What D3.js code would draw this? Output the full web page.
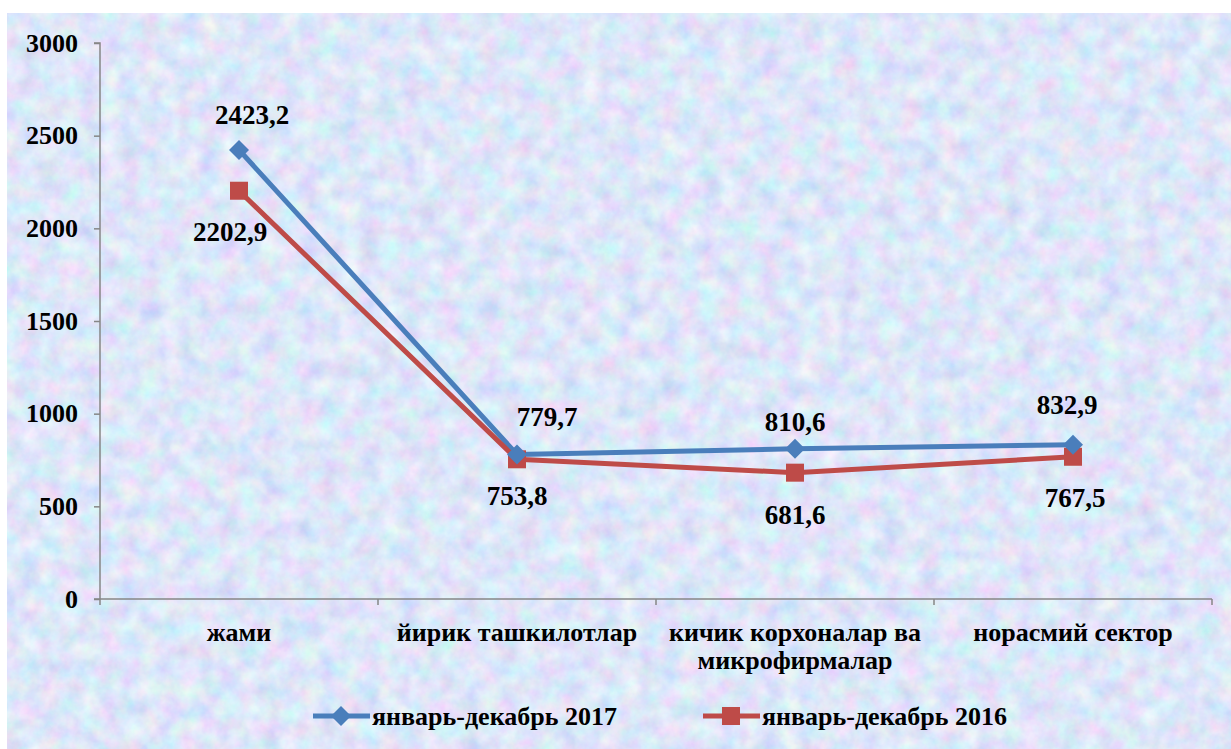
<!DOCTYPE html>
<html><head><meta charset="utf-8">
<script src="https://cdn.jsdelivr.net/npm/d3@7"></script>
<style>html,body{margin:0;padding:0;background:#fff;}svg{display:block;}</style>
</head><body>
<svg id="chart" width="1231" height="749"></svg>
<script>
const categories = [["жами"], ["йирик ташкилотлар"], ["кичик корхоналар ва", "микрофирмалар"], ["норасмий сектор"]];
const series2017 = [2423.2, 779.7, 810.6, 832.9];
const series2016 = [2202.9, 753.8, 681.6, 767.5];
const seriesNames = ["январь-декабрь 2017", "январь-декабрь 2016"];
const yTicks = [0, 500, 1000, 1500, 2000, 2500, 3000];
const fmt = v => String(v.toFixed(1)).replace(".", ",");

// label offsets (dx, dy) relative to point, in px
const off2017 = [[13,-35],[30,-38],[0,-27],[-6,-40]];
const off2016 = [[-9,41],[0,36],[0,42],[2,41]];

const svg = d3.select("#chart");
const W = 1231, H = 749;
const defs = svg.append("defs");
const f = defs.append("filter").attr("id","tex").attr("x",0).attr("y",0).attr("width","100%").attr("height","100%");
f.append("feTurbulence").attr("type","fractalNoise").attr("baseFrequency","0.05").attr("numOctaves",4).attr("seed",7);
f.append("feColorMatrix").attr("type","matrix").attr("values",
  "0.6 0 0 0 0.46  0 0.5 0 0 0.57  0 0 0.25 0 0.83  0 0 0 0 1");
svg.append("rect").attr("x",7).attr("y",13).attr("width",W-7).attr("height",H-13).attr("fill","#bfd0f2");
svg.append("rect").attr("x",7).attr("y",13).attr("width",W-7).attr("height",H-13).attr("filter","url(#tex)").attr("opacity",0.9);

const x0 = 100, x1 = 1212, yTop = 43, yBot = 599;
const x = d3.scaleBand().domain(d3.range(categories.length)).range([x0, x1]).padding(0);
const y = d3.scaleLinear().domain([0, 3000]).range([yBot, yTop]);
const cx = i => x(i) + x.bandwidth()/2;

const axisColor = "#868686";
const font = "Liberation Serif";
const fs = 26;

// y axis
const ya = svg.append("g").attr("transform",`translate(${x0},0)`)
  .call(d3.axisLeft(y).tickValues(yTicks).tickSize(6).tickPadding(16).tickFormat(d3.format("d")));
ya.attr("font-family",font);
ya.select(".domain").attr("stroke",axisColor).attr("stroke-width",1.5).attr("d",`M-6,${yTop}H0V${yBot}`);
ya.selectAll(".tick line").attr("stroke",axisColor).attr("stroke-width",1.5);
ya.selectAll(".tick text").attr("font-family",font).attr("font-weight","bold").attr("font-size",fs).attr("fill","#000");

// x axis
const xa = svg.append("g").attr("transform",`translate(0,${yBot})`);
xa.append("line").attr("x1",x0-6).attr("x2",x1).attr("stroke",axisColor).attr("stroke-width",1.5);
const bounds = d3.range(categories.length+1).map(i => i < categories.length ? x(i) : x1);
xa.selectAll(".xt").data(bounds).join("line").attr("x1",d=>d).attr("x2",d=>d).attr("y1",0).attr("y2",6)
  .attr("stroke",axisColor).attr("stroke-width",1.5);
const xl = xa.selectAll(".xl").data(categories).join("text")
  .attr("font-family",font).attr("font-weight","bold").attr("font-size",fs).attr("text-anchor","middle").attr("fill","#000");
xl.each(function(lines,i){
  const t = d3.select(this);
  lines.forEach((l,j)=> t.append("tspan").attr("x",cx(i)).attr("y",42 + j*28).text(l));
});

// lines
const colors = ["#4a7ebb", "#be4b48"];
const line = d3.line().x((d,i)=>cx(i)).y(d=>y(d));
[series2017, series2016].forEach((s,k)=>{
  svg.append("path").datum(s).attr("d",line).attr("fill","none").attr("stroke",colors[k]).attr("stroke-width",5).attr("stroke-linejoin","round");
});
// markers
svg.selectAll(".m16").data(series2016).join("rect")
  .attr("x",(d,i)=>cx(i)-9).attr("y",d=>y(d)-9).attr("width",18).attr("height",18).attr("fill",colors[1]);
svg.selectAll(".m17").data(series2017).join("path")
  .attr("d",(d,i)=>`M${cx(i)},${y(d)-10}L${cx(i)+10},${y(d)}L${cx(i)},${y(d)+10}L${cx(i)-10},${y(d)}Z`).attr("fill",colors[0]);

// data labels
function labels(s, off){
  svg.append("g").selectAll("text").data(s).join("text")
    .attr("x",(d,i)=>cx(i)+off[i][0]).attr("y",(d,i)=>y(d)+off[i][1]).attr("dy","0.35em")
    .attr("text-anchor","middle").attr("font-family",font).attr("font-weight","bold").attr("font-size",27).attr("fill","#000")
    .text(d=>fmt(d));
}
labels(series2017, off2017);
labels(series2016, off2016);

// legend
const lg = svg.append("g");
const legItems = [{x:313, c:colors[0], t:seriesNames[0], m:"d"},{x:703, c:colors[1], t:seriesNames[1], m:"s"}];
legItems.forEach(it=>{
  const ly = 716;
  lg.append("line").attr("x1",it.x).attr("x2",it.x+57).attr("y1",ly).attr("y2",ly).attr("stroke",it.c).attr("stroke-width",5);
  const mx = it.x+28;
  if(it.m==="d") lg.append("path").attr("d",`M${mx},${ly-10}L${mx+10},${ly}L${mx},${ly+10}L${mx-10},${ly}Z`).attr("fill",it.c);
  else lg.append("rect").attr("x",mx-9).attr("y",ly-9).attr("width",18).attr("height",18).attr("fill",it.c);
  lg.append("text").attr("x",it.x+59).attr("y",ly).attr("dy","0.35em").attr("font-family",font).attr("font-weight","bold")
    .attr("font-size",fs).attr("fill","#000").text(it.t);
});
</script>
</body></html>
